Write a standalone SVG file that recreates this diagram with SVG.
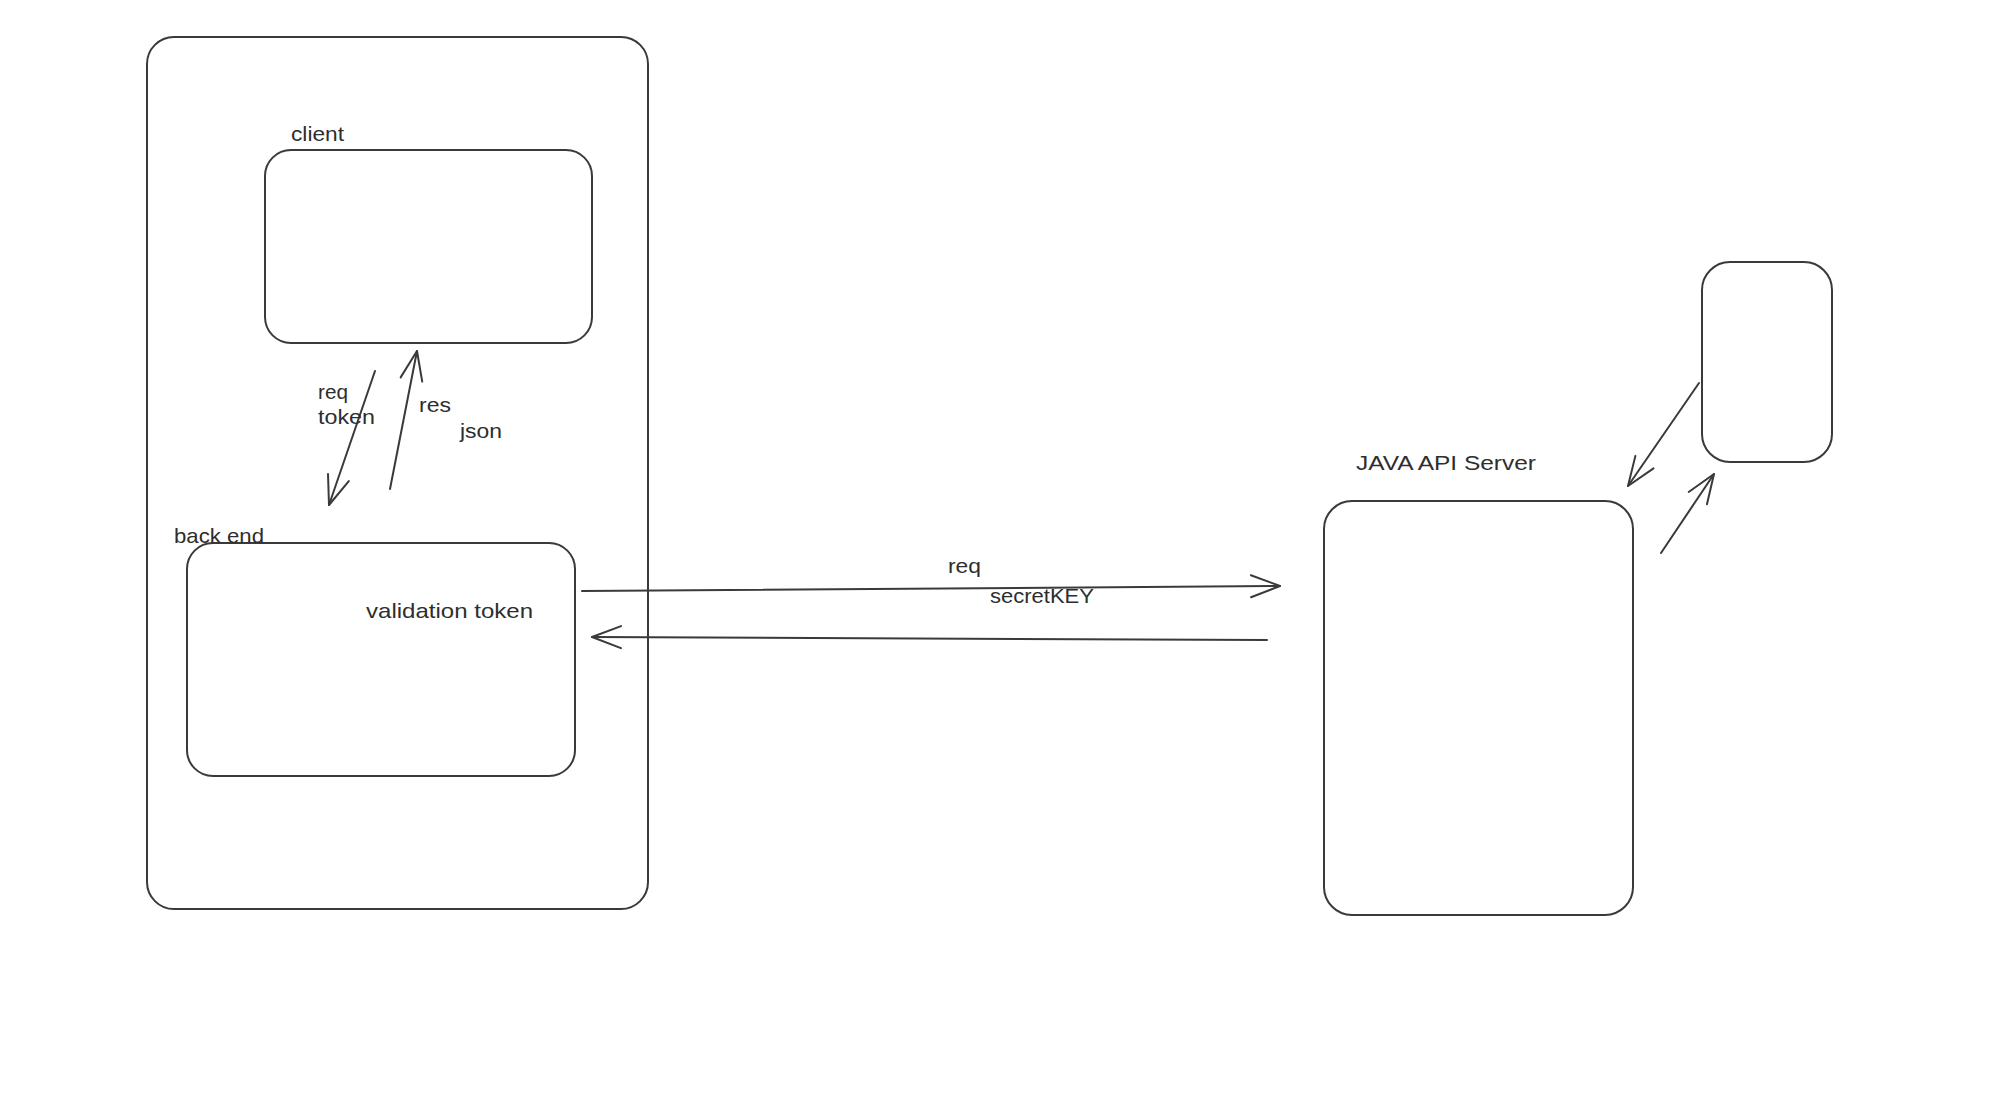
<svg xmlns="http://www.w3.org/2000/svg" width="2000" height="1119" viewBox="0 0 2000 1119">
  <style>
    .box { fill: none; stroke: #3a3a3a; stroke-width: 2; }
    .edge { fill: none; stroke: #3a3a3a; stroke-width: 2; stroke-linecap: round; }
    .lbl { font-family: "Liberation Sans", Arial, sans-serif; font-size: 21px; fill: #2e2e2e; }
  </style>
  <defs>
    <marker id="arrow" markerUnits="userSpaceOnUse" markerWidth="40" markerHeight="40" viewBox="-35 -20 40 40" refX="0" refY="0" orient="auto">
      <path d="M-29,-11 L0,0 L-29,11" fill="none" stroke="#3a3a3a" stroke-width="2" stroke-linecap="round" stroke-linejoin="round"/>
    </marker>
  </defs>
  <rect width="2000" height="1119" fill="#ffffff"/>

  <g id="frame">
    <rect class="box" x="147" y="37" width="501" height="872" rx="27" ry="27"/>
  </g>

  <g id="client">
    <rect class="box" x="265" y="150" width="327" height="193" rx="26" ry="26"/>
    <text class="lbl" x="291" y="141" textLength="53" lengthAdjust="spacingAndGlyphs">client</text>
  </g>

  <g id="backend">
    <rect class="box" x="187" y="543" width="388" height="233" rx="26" ry="26"/>
    <text class="lbl" x="174" y="543" textLength="90" lengthAdjust="spacingAndGlyphs">back end</text>
    <text class="lbl" x="366" y="618" textLength="167" lengthAdjust="spacingAndGlyphs">validation token</text>
  </g>

  <g id="java-api-server">
    <rect class="box" x="1324" y="501" width="309" height="414" rx="28" ry="28"/>
    <text class="lbl" x="1356" y="470" textLength="180" lengthAdjust="spacingAndGlyphs">JAVA API Server</text>
  </g>

  <g id="external">
    <rect class="box" x="1702" y="262" width="130" height="200" rx="28" ry="28"/>
  </g>

  <g id="connectors">
    <line class="edge" x1="375" y1="371" x2="329" y2="505" marker-end="url(#arrow)"/>
    <line class="edge" x1="390" y1="489" x2="417" y2="351" marker-end="url(#arrow)"/>
    <line class="edge" x1="582" y1="591" x2="1280" y2="586" marker-end="url(#arrow)"/>
    <line class="edge" x1="1267" y1="640" x2="592" y2="637" marker-end="url(#arrow)"/>
    <line class="edge" x1="1699" y1="383" x2="1628" y2="486" marker-end="url(#arrow)"/>
    <line class="edge" x1="1661" y1="553" x2="1714" y2="474" marker-end="url(#arrow)"/>
    <text class="lbl" x="318" y="399" textLength="30" lengthAdjust="spacingAndGlyphs">req</text>
    <text class="lbl" x="318" y="424" textLength="57" lengthAdjust="spacingAndGlyphs">token</text>
    <text class="lbl" x="419" y="412" textLength="32" lengthAdjust="spacingAndGlyphs">res</text>
    <text class="lbl" x="460" y="438" textLength="42" lengthAdjust="spacingAndGlyphs">json</text>
    <text class="lbl" x="948" y="573" textLength="33" lengthAdjust="spacingAndGlyphs">req</text>
    <text class="lbl" x="990" y="603" textLength="104" lengthAdjust="spacingAndGlyphs">secretKEY</text>
  </g>
</svg>
